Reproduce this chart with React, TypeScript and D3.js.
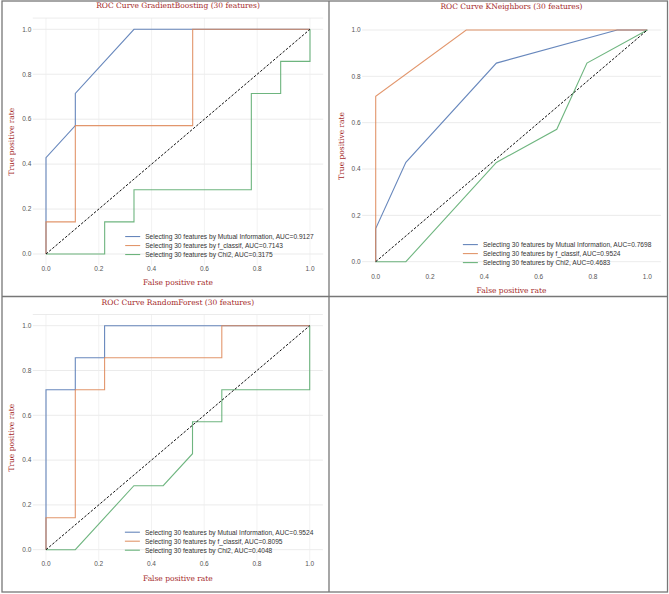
import React from "react";
import * as d3 from "d3";

type Pt = [number, number];

const titles = [
  "ROC Curve GradientBoosting (30 features)",
  "ROC Curve KNeighbors (30 features)",
  "ROC Curve RandomForest (30 features)",
];

const seriesNames = [
  "Selecting 30 features by Mutual Information",
  "Selecting 30 features by f_classif",
  "Selecting 30 features by Chi2",
];

const aucGB = ["0.9127", "0.7143", "0.3175"];
const aucKN = ["0.7698", "0.9524", "0.4683"];
const aucRF = ["0.9524", "0.8095", "0.4048"];

const gbMI: Pt[] = [[0, 0], [0, 0.4286], [0.1111, 0.5714], [0.1111, 0.7143], [0.3333, 1], [1, 1]];
const gbF: Pt[] = [[0, 0], [0, 0.1429], [0.1111, 0.1429], [0.1111, 0.5714], [0.5556, 0.5714], [0.5556, 1], [1, 1]];
const gbChi: Pt[] = [[0, 0], [0.2222, 0], [0.2222, 0.1429], [0.3333, 0.1429], [0.3333, 0.2857], [0.7778, 0.2857], [0.7778, 0.7143], [0.8889, 0.7143], [0.8889, 0.8571], [1, 0.8571], [1, 1]];

const knMI: Pt[] = [[0, 0], [0, 0.1429], [0.1111, 0.4286], [0.4444, 0.8571], [0.8889, 1], [1, 1]];
const knF: Pt[] = [[0, 0], [0, 0.7143], [0.3333, 1], [1, 1]];
const knChi: Pt[] = [[0, 0], [0.1111, 0], [0.4444, 0.4286], [0.6667, 0.5714], [0.7778, 0.8571], [1, 1]];

const rfMI: Pt[] = [[0, 0], [0, 0.1429], [0, 0.7143], [0.1111, 0.7143], [0.1111, 0.8571], [0.2222, 0.8571], [0.2222, 1], [1, 1]];
const rfF: Pt[] = [[0, 0], [0, 0.1429], [0.1111, 0.1429], [0.1111, 0.7143], [0.2222, 0.7143], [0.2222, 0.8571], [0.6667, 0.8571], [0.6667, 1], [1, 1]];
const rfChi: Pt[] = [[0, 0], [0.1111, 0], [0.3333, 0.2857], [0.4444, 0.2857], [0.5556, 0.4286], [0.5556, 0.5714], [0.6667, 0.5714], [0.6667, 0.7143], [1, 0.7143], [1, 1]];

const ticks = [0, 0.2, 0.4, 0.6, 0.8, 1.0];
const colors = ["#4c72b0", "#dd8452", "#55a868"];

const TITLE_COLOR = "#a52a2a";
const SERIF = "'DejaVu Serif', serif";
const SANS = "'Liberation Sans', Arial, sans-serif";

interface PanelProps {
  title: string;
  series: Pt[][];
  aucs: string[];
  px0: number;
  px1: number;
  py0: number;
  py1: number;
  vgrid: boolean;
  topLine: boolean;
}

function Panel({ title, series, aucs, px0, px1, py0, py1, vgrid, topLine }: PanelProps) {
  const x = d3.scaleLinear().domain([0, 1]).range([px0, px1]);
  const y = d3.scaleLinear().domain([0, 1]).range([py0, py1]);
  const left = x(-0.05), right = x(1.05), bottom = y(-0.05), top = y(1.05);
  const line = d3.line<Pt>().x((d) => x(d[0])).y((d) => y(d[1]));
  const cx = (left + right) / 2;
  const cy = (top + bottom) / 2;
  const legX = right - 198;
  const legRowY = (i: number) => bottom - 10.7 - (2 - i) * 9;
  return (
    <g>
      {ticks.map((t) => (
        <line key={"h" + t} x1={left} x2={right} y1={y(t)} y2={y(t)} stroke="#e6e6e6" strokeWidth={0.8} />
      ))}
      {vgrid &&
        ticks.map((t) => (
          <line key={"v" + t} x1={x(t)} x2={x(t)} y1={top} y2={bottom} stroke="#ececec" strokeWidth={0.7} />
        ))}
      {topLine && <line x1={left} x2={right} y1={top} y2={top} stroke="#e6e6e6" strokeWidth={0.8} />}
      {ticks.map((t) => (
        <text key={"yt" + t} x={left - 1.5} y={y(t)} dy="0.35em" textAnchor="end" fontSize={6.5} fill="#555" fontFamily={SANS}>
          {t.toFixed(1)}
        </text>
      ))}
      {ticks.map((t) => (
        <text key={"xt" + t} x={x(t)} y={bottom + 3} dy="0.35em" textAnchor="middle" fontSize={6.5} fill="#555" fontFamily={SANS}>
          {t.toFixed(1)}
        </text>
      ))}
      {series.map((s, i) => (
        <path key={"s" + i} d={line(s) || ""} fill="none" stroke={colors[i]} strokeWidth={1.1} opacity={0.85} />
      ))}
      <path d={line([[0, 0], [1, 1]]) || ""} fill="none" stroke="#111" strokeWidth={1} strokeDasharray="2.6,1.6" />
      {seriesNames.map((n, i) => (
        <g key={"l" + i}>
          <line x1={legX} x2={legX + 15} y1={legRowY(i)} y2={legRowY(i)} stroke={colors[i]} strokeWidth={1.1} opacity={0.85} />
          <text x={legX + 20} y={legRowY(i)} dy="0.35em" fontSize={6.6} fill="#333" fontFamily={SANS}>
            {n + ", AUC=" + aucs[i]}
          </text>
        </g>
      ))}
      <text x={cx} y={top - 12.5} dy="0.35em" textAnchor="middle" fontSize={7.5} fill={TITLE_COLOR} fontFamily={SERIF}>
        {title}
      </text>
      <text x={cx} y={bottom + 17.5} dy="0.35em" textAnchor="middle" fontSize={7.5} fill={TITLE_COLOR} fontFamily={SERIF}>
        False positive rate
      </text>
      <text transform={`translate(${left - 21},${cy}) rotate(-90)`} dy="0.35em" textAnchor="middle" fontSize={7.5} fill={TITLE_COLOR} fontFamily={SERIF}>
        True positive rate
      </text>
    </g>
  );
}

export default function App() {
  return (
    <svg width={669} height={594} style={{ position: "absolute", left: 0, top: 0, background: "#fff" }}>
      <rect x={0} y={0} width={669} height={594} fill="#fff" />
      <Panel title={titles[0]} series={[gbMI, gbF, gbChi]} aucs={aucGB} px0={46} px1={310} py0={254} py1={29.3} vgrid topLine />
      <Panel title={titles[1]} series={[knMI, knF, knChi]} aucs={aucKN} px0={375.7} px1={647.3} py0={261.7} py1={30} vgrid={false} topLine={false} />
      <Panel title={titles[2]} series={[rfMI, rfF, rfChi]} aucs={aucRF} px0={46} px1={309.7} py0={549.7} py1={325.7} vgrid topLine />
      <rect x={2} y={1} width={665.5} height={591} fill="none" stroke="#777" strokeWidth={1.3} />
      <line x1={329} x2={329} y1={1} y2={592} stroke="#777" strokeWidth={1.3} />
      <line x1={2} x2={667.5} y1={296.5} y2={296.5} stroke="#777" strokeWidth={1.3} />
    </svg>
  );
}
